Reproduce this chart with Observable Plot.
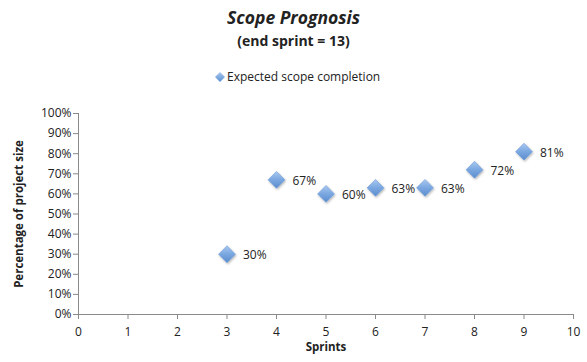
<!DOCTYPE html>
<html>
<head>
<meta charset="utf-8">
<script src="https://cdn.jsdelivr.net/npm/d3@7"></script>
<script src="https://cdn.jsdelivr.net/npm/@observablehq/plot@0.6"></script>
<style>
  html, body { margin: 0; padding: 0; background: #fff; }
  body { width: 587px; height: 362px; position: relative; overflow: hidden;
         font-family: "Open Sans", "Liberation Sans", sans-serif; color: #222; }
  .title { position: absolute; left: 0; width: 587px; text-align: center; top: 5px;
           font-size: 17.5px; font-weight: bold; font-style: italic; }
  .subtitle { position: absolute; left: 0; width: 587px; text-align: center; top: 31px;
              font-size: 14px; font-weight: bold; }
  .legend { position: absolute; left: 214px; top: 68px; font-size: 12px; display: flex; align-items: center; }
  .legend svg { margin-right: 1px; }
  #chart { position: absolute; left: 0; top: 90px; }
</style>
</head>
<body>
<div class="title">Scope Prognosis</div>
<div class="subtitle">(end sprint = 13)</div>
<div class="legend">
  <svg width="12" height="12" viewBox="-6 -6 12 12"><path d="M0,-5L5,0L0,5L-5,0Z" fill="url(#legendFill)"/>
    <defs><linearGradient id="legendFill" x1="0" y1="0" x2="0" y2="1">
      <stop offset="0" stop-color="#a9c8f0"/><stop offset="1" stop-color="#5b8fd0"/></linearGradient></defs></svg>
  <span>Expected scope completion</span>
</div>
<div id="chart"></div>
<script>
// Sprint number and expected share of project scope completed
const sprints = [3, 4, 5, 6, 7, 8, 9];
const completion = [0.30, 0.67, 0.60, 0.63, 0.63, 0.72, 0.81];
const xTicks = [0, 1, 2, 3, 4, 5, 6, 7, 8, 9, 10];
const yTicks = [0, 0.1, 0.2, 0.3, 0.4, 0.5, 0.6, 0.7, 0.8, 0.9, 1.0];

const data = sprints.map((s, i) => ({sprint: s, value: completion[i]}));
const axisColor = "#8a8a8a";

const chart = Plot.plot({
  width: 587,
  height: 272,
  marginLeft: 78,
  marginRight: 14,
  marginTop: 23,
  marginBottom: 48,
  style: {fontFamily: "'Open Sans', 'Liberation Sans', sans-serif", fontSize: "12px", color: "#222", background: "transparent"},
  x: {domain: [0, 10]},
  y: {domain: [0, 1]},
  marks: [
    Plot.ruleY([0], {stroke: axisColor}),
    Plot.ruleX([0], {stroke: axisColor}),
    Plot.axisX({ticks: xTicks, tickSize: 5, tickPadding: 8, stroke: axisColor, tickFormat: d => d,
      label: "Sprints", labelAnchor: "center", labelOffset: 36, labelArrow: "none"}),
    Plot.axisY({ticks: yTicks, tickSize: 5, tickPadding: 2, stroke: axisColor, tickFormat: d3.format(".0%"),
      label: "Percentage of project size", labelAnchor: "center", labelOffset: 64, labelArrow: "none"}),
    Plot.dot(data, {x: "sprint", y: "value", symbol: "diamond2", r: 7.6,
      fill: "url(#markerFill)", stroke: "#6d9bd6", strokeWidth: 0.6}),
    Plot.text(data, {x: "sprint", y: "value", text: d => d3.format(".0%")(d.value),
      textAnchor: "start", dx: 16, dy: 1, fontSize: 12, fill: "#222"})
  ]
});

// gradient and soft shadow for the diamond markers
const svg = d3.select(chart);
const defs = svg.insert("defs", ":first-child");
const g = defs.append("linearGradient").attr("id", "markerFill")
  .attr("x1", 0).attr("y1", 0).attr("x2", 0).attr("y2", 1);
g.append("stop").attr("offset", 0).attr("stop-color", "#a9c8f0");
g.append("stop").attr("offset", 0.5).attr("stop-color", "#7aa7e0");
g.append("stop").attr("offset", 1).attr("stop-color", "#5a8ccd");
const f = defs.append("filter").attr("id", "shadow").attr("x", "-50%").attr("y", "-50%").attr("width", "200%").attr("height", "200%");
f.append("feDropShadow").attr("dx", 0.8).attr("dy", 1.2).attr("stdDeviation", 1).attr("flood-color", "#000").attr("flood-opacity", 0.3);
svg.selectAll("[aria-label=dot] path").attr("filter", "url(#shadow)");
svg.selectAll("[aria-label='y-axis label'], [aria-label='x-axis label']")
  .style("font-weight", "bold").style("font-size", "11.5px");

document.getElementById("chart").append(chart);
</script>
</body>
</html>
